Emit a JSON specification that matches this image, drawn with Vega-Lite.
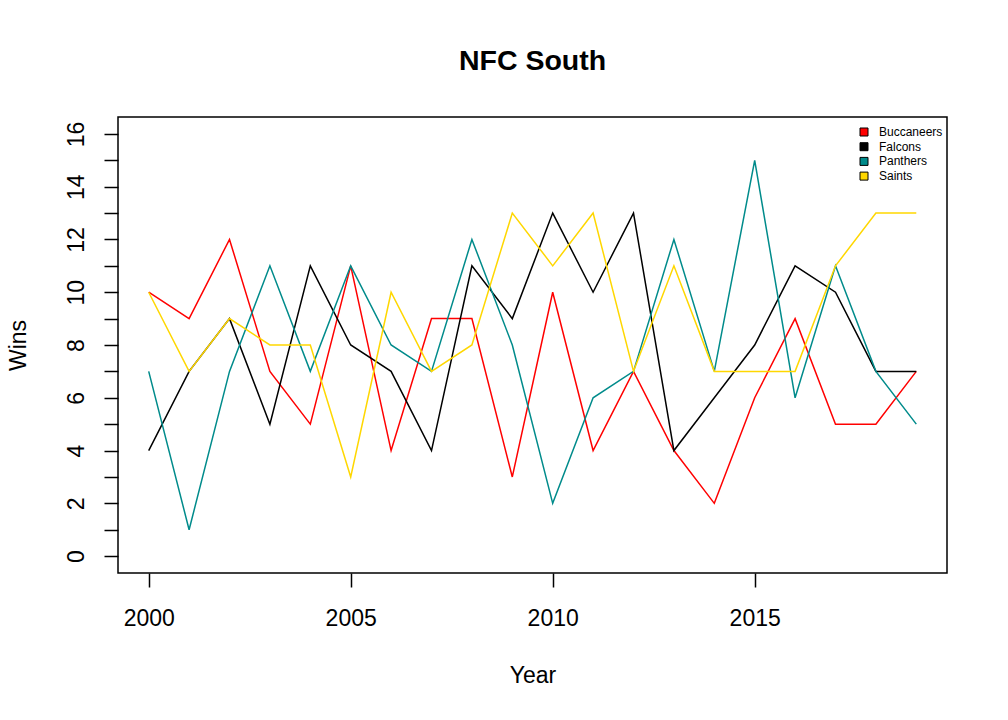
{
  "$schema": "https://vega.github.io/schema/vega-lite/v6.json",
  "autosize": "none",
  "width": 829,
  "height": 456,
  "padding": {"left": 118, "top": 117, "right": 61, "bottom": 147},
  "background": "white",
  "config": {
    "font": "Liberation Sans",
    "view": {"stroke": "black", "strokeWidth": 1.5}
  },
  "title": {
    "text": "NFC South",
    "fontSize": 28.5,
    "fontWeight": "bold",
    "font": "Liberation Sans",
    "color": "black",
    "anchor": "middle",
    "frame": "group",
    "baseline": "alphabetic",
    "offset": 19
  },
  "data": {
    "values": [
      {"year": 2000, "team": "Buccaneers", "wins": 10},
      {"year": 2001, "team": "Buccaneers", "wins": 9},
      {"year": 2002, "team": "Buccaneers", "wins": 12},
      {"year": 2003, "team": "Buccaneers", "wins": 7},
      {"year": 2004, "team": "Buccaneers", "wins": 5},
      {"year": 2005, "team": "Buccaneers", "wins": 11},
      {"year": 2006, "team": "Buccaneers", "wins": 4},
      {"year": 2007, "team": "Buccaneers", "wins": 9},
      {"year": 2008, "team": "Buccaneers", "wins": 9},
      {"year": 2009, "team": "Buccaneers", "wins": 3},
      {"year": 2010, "team": "Buccaneers", "wins": 10},
      {"year": 2011, "team": "Buccaneers", "wins": 4},
      {"year": 2012, "team": "Buccaneers", "wins": 7},
      {"year": 2013, "team": "Buccaneers", "wins": 4},
      {"year": 2014, "team": "Buccaneers", "wins": 2},
      {"year": 2015, "team": "Buccaneers", "wins": 6},
      {"year": 2016, "team": "Buccaneers", "wins": 9},
      {"year": 2017, "team": "Buccaneers", "wins": 5},
      {"year": 2018, "team": "Buccaneers", "wins": 5},
      {"year": 2019, "team": "Buccaneers", "wins": 7},
      {"year": 2000, "team": "Falcons", "wins": 4},
      {"year": 2001, "team": "Falcons", "wins": 7},
      {"year": 2002, "team": "Falcons", "wins": 9},
      {"year": 2003, "team": "Falcons", "wins": 5},
      {"year": 2004, "team": "Falcons", "wins": 11},
      {"year": 2005, "team": "Falcons", "wins": 8},
      {"year": 2006, "team": "Falcons", "wins": 7},
      {"year": 2007, "team": "Falcons", "wins": 4},
      {"year": 2008, "team": "Falcons", "wins": 11},
      {"year": 2009, "team": "Falcons", "wins": 9},
      {"year": 2010, "team": "Falcons", "wins": 13},
      {"year": 2011, "team": "Falcons", "wins": 10},
      {"year": 2012, "team": "Falcons", "wins": 13},
      {"year": 2013, "team": "Falcons", "wins": 4},
      {"year": 2014, "team": "Falcons", "wins": 6},
      {"year": 2015, "team": "Falcons", "wins": 8},
      {"year": 2016, "team": "Falcons", "wins": 11},
      {"year": 2017, "team": "Falcons", "wins": 10},
      {"year": 2018, "team": "Falcons", "wins": 7},
      {"year": 2019, "team": "Falcons", "wins": 7},
      {"year": 2000, "team": "Panthers", "wins": 7},
      {"year": 2001, "team": "Panthers", "wins": 1},
      {"year": 2002, "team": "Panthers", "wins": 7},
      {"year": 2003, "team": "Panthers", "wins": 11},
      {"year": 2004, "team": "Panthers", "wins": 7},
      {"year": 2005, "team": "Panthers", "wins": 11},
      {"year": 2006, "team": "Panthers", "wins": 8},
      {"year": 2007, "team": "Panthers", "wins": 7},
      {"year": 2008, "team": "Panthers", "wins": 12},
      {"year": 2009, "team": "Panthers", "wins": 8},
      {"year": 2010, "team": "Panthers", "wins": 2},
      {"year": 2011, "team": "Panthers", "wins": 6},
      {"year": 2012, "team": "Panthers", "wins": 7},
      {"year": 2013, "team": "Panthers", "wins": 12},
      {"year": 2014, "team": "Panthers", "wins": 7},
      {"year": 2015, "team": "Panthers", "wins": 15},
      {"year": 2016, "team": "Panthers", "wins": 6},
      {"year": 2017, "team": "Panthers", "wins": 11},
      {"year": 2018, "team": "Panthers", "wins": 7},
      {"year": 2019, "team": "Panthers", "wins": 5},
      {"year": 2000, "team": "Saints", "wins": 10},
      {"year": 2001, "team": "Saints", "wins": 7},
      {"year": 2002, "team": "Saints", "wins": 9},
      {"year": 2003, "team": "Saints", "wins": 8},
      {"year": 2004, "team": "Saints", "wins": 8},
      {"year": 2005, "team": "Saints", "wins": 3},
      {"year": 2006, "team": "Saints", "wins": 10},
      {"year": 2007, "team": "Saints", "wins": 7},
      {"year": 2008, "team": "Saints", "wins": 8},
      {"year": 2009, "team": "Saints", "wins": 13},
      {"year": 2010, "team": "Saints", "wins": 11},
      {"year": 2011, "team": "Saints", "wins": 13},
      {"year": 2012, "team": "Saints", "wins": 7},
      {"year": 2013, "team": "Saints", "wins": 11},
      {"year": 2014, "team": "Saints", "wins": 7},
      {"year": 2015, "team": "Saints", "wins": 7},
      {"year": 2016, "team": "Saints", "wins": 7},
      {"year": 2017, "team": "Saints", "wins": 11},
      {"year": 2018, "team": "Saints", "wins": 13},
      {"year": 2019, "team": "Saints", "wins": 13}
    ]
  },
  "encoding": {
    "x": {
      "field": "year",
      "type": "quantitative",
      "scale": {"domain": [1999.24, 2019.76], "nice": false, "zero": false},
      "axis": {
        "title": "Year",
        "values": [2000, 2005, 2010, 2015],
        "format": "d",
        "grid": false,
        "domain": false,
        "tickColor": "black",
        "tickWidth": 1.5,
        "tickSize": 14,
        "labelColor": "black",
        "labelFontSize": 23,
        "labelBaseline": "alphabetic",
        "labelPadding": 38,
        "labelFlush": false,
        "labelOverlap": false,
        "titleColor": "black",
        "titleFontSize": 23,
        "titleFontWeight": "normal",
        "titleBaseline": "alphabetic",
        "titleX": 414.5,
        "titleY": 109
      }
    },
    "y": {
      "field": "wins",
      "type": "quantitative",
      "scale": {"domain": [-0.64, 16.64], "nice": false, "zero": false},
      "axis": {
        "title": "Wins",
        "values": [0, 1, 2, 3, 4, 5, 6, 7, 8, 9, 10, 11, 12, 13, 14, 15, 16],
        "labelExpr": "datum.value % 2 == 0 ? datum.label : ''",
        "grid": false,
        "domain": false,
        "tickColor": "black",
        "tickWidth": 1.5,
        "tickSize": 14,
        "labelColor": "black",
        "labelFontSize": 23,
        "labelAngle": -90,
        "labelAlign": "center",
        "labelBaseline": "alphabetic",
        "labelPadding": 21,
        "labelFlush": false,
        "labelOverlap": false,
        "titleColor": "black",
        "titleFontSize": 23,
        "titleFontWeight": "normal",
        "titleAngle": -90,
        "titleAlign": "center",
        "titleBaseline": "alphabetic",
        "titleX": -93,
        "titleY": 228
      }
    }
  },
  "layer": [
    {
      "mark": {"type": "line", "strokeWidth": 1.5},
      "encoding": {
        "stroke": {
          "field": "team",
          "type": "nominal",
          "scale": {"range": ["#FF0000", "#000000", "#008B8B", "#FFD700"]},
          "legend": null
        }
      }
    },
    {
      "transform": [{"filter": "false"}],
      "mark": {"type": "point", "shape": "square", "filled": true, "stroke": "black", "strokeWidth": 1, "opacity": 1},
      "encoding": {
        "fill": {
          "field": "team",
          "type": "nominal",
          "scale": {
            "domain": ["Buccaneers", "Falcons", "Panthers", "Saints"],
            "range": ["#FF0000", "#000000", "#008B8B", "#FFD700"]
          },
          "legend": {
            "title": null,
            "orient": "none",
            "legendX": 740,
            "legendY": 9,
            "padding": 0,
            "symbolType": "square",
            "symbolSize": 64,
            "symbolStrokeWidth": 1,
            "symbolOpacity": 1,
            "labelFontSize": 12,
            "labelColor": "black",
            "labelOffset": 9,
            "rowPadding": 2.7
          }
        }
      }
    }
  ]
}
